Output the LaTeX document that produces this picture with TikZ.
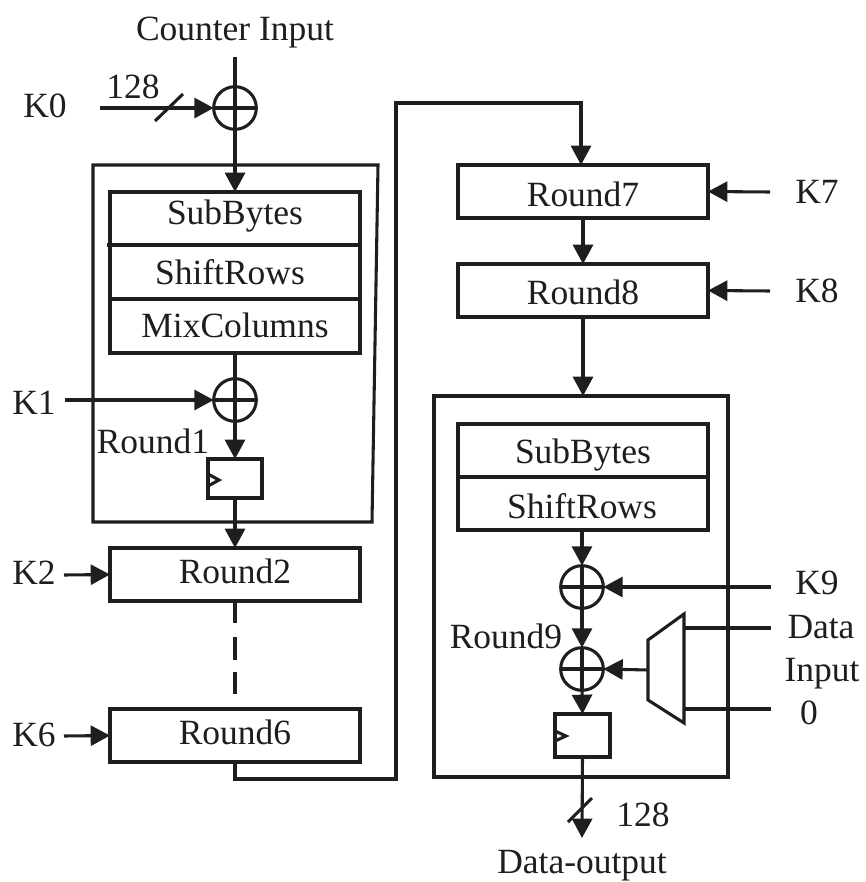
\documentclass[tikz,border=0pt]{standalone}
\usepackage{fontspec}
\setmainfont{Liberation Serif}
\usetikzlibrary{arrows.meta}
\definecolor{ink}{HTML}{1E1E1E}
\tikzset{
  x=0.75pt,y=-0.75pt,
  lab/.style={draw=none,inner sep=0pt,text=ink,font=\fontsize{26.6}{29}\selectfont},
  blk/.style n args={2}{draw=ink,line width=2.3pt,fill=white,rectangle,inner sep=0pt,outer sep=0pt,text=ink,
     minimum width=#1*0.75pt,minimum height=#2*0.75pt},
  xorc/.style={draw=ink,line width=2.3pt,circle,inner sep=0pt,outer sep=0pt,minimum size=32pt},
  conn/.style={-{Triangle[length=14.5pt,width=15pt]},line width=2.3pt,draw=ink},
  wire/.style={line width=2.3pt,draw=ink},
  bus/.style={line width=2.3pt,draw=ink},
}
\begin{document}
\begin{tikzpicture}
\useasboundingbox (0,0) rectangle (865,882);
% outer round boxes
\coordinate (ra) at (93,165); \coordinate (rb) at (378,165);
\coordinate (rc) at (372,522); \coordinate (rd) at (93,522);
\draw[wire,line join=miter] (ra) -- (rb) -- (rc) -- (rd) -- cycle;
\node[blk={294}{381}] (r9box) at (581,586.5) {};
% left column blocks
\node[blk={250}{53}] (sb1) at (235,218.5) {};
\node[blk={250}{54}] (sr1) at (235,272) {};
\node[blk={250}{54}] (mc1) at (235,326) {};
\node[lab] at (235,216) {SubBytes};
\node[lab] at (230,272) {ShiftRows};
\node[lab] at (235,325) {MixColumns};
\coordinate (tick) at (107,245);
\draw[wire] (tick) -- (sb1.south west);
\node[xorc] (x0) at (235,108) {};
\node[xorc] (x1) at (235,400) {};
\node[blk={54}{39}] (reg1) at (235,478.5) {};
\node[blk={250}{53}] (r2) at (235,574.5) {};
\node[blk={250}{53}] (r6) at (235,735.5) {};
\node[lab] at (235,571) {Round2};
\node[lab] at (235,732) {Round6};
% right column blocks
\node[blk={250}{53}] (r7) at (583,191.5) {};
\node[blk={250}{53}] (r8) at (583,290.5) {};
\node[lab] at (583,194) {Round7};
\node[lab] at (583,292) {Round8};
\node[blk={250}{53}] (sb9) at (583,450.5) {};
\node[blk={250}{53}] (sr9) at (583,503.5) {};
\node[lab] at (583,455) {SubBytes};
\node[lab] at (582,506) {ShiftRows};
\node[xorc] (x9) at (582,587) {};
\node[xorc] (xd) at (582,669) {};
\node[blk={55}{43}] (reg9) at (582.5,735.5) {};
% xor crosses
\foreach \n in {x0,x1,x9,xd}{\draw[bus] (\n.north) -- (\n.south) (\n.west) -- (\n.east);}
% clock marks
\draw[bus,line join=miter] (208,474) -- (219,480) -- (208,486);
\draw[bus,line join=miter] (555,731) -- (566,736) -- (555,741);
% mux
\coordinate (ma) at (648,640); \coordinate (mb) at (684,614);
\coordinate (mc) at (684,723); \coordinate (md) at (648,700);
\draw[wire,line join=miter] (ma) -- (mb) -- (mc) -- (md) -- cycle;
\coordinate (mout) at (648,670);
\coordinate (min1) at (684,628); \coordinate (min2) at (684,709);
% free ends
\coordinate (ctop) at (235,57);
\coordinate (k0s) at (100,108);
\coordinate (k1s) at (65,400);
\coordinate (k2s) at (64,575);
\coordinate (k6s) at (64,736);
\coordinate (k7s) at (770,192);
\coordinate (k8s) at (770,291);
\coordinate (k9s) at (771,587);
\coordinate (ds) at (771,628);
\coordinate (zs) at (771,709);
\coordinate (oute) at (582,838);
% connectors
\draw[wire] (ctop) -- (x0.north);
\draw[conn] (k0s) -- (x0.west);
\draw[conn] (x0.south) -- (sb1.north);
\draw[conn] (k1s) -- (x1.west);
\draw[wire] (mc1.south) -- (x1.north);
\draw[conn] (x1.south) -- (reg1.north);
\draw[conn] (reg1.south) -- (r2.north);
\draw[conn] (k2s) -- (r2.west);
\draw[wire,dash pattern=on 16.5pt off 10.5pt on 17pt off 9pt on 17pt off 200pt] (r2.south) -- (r6.north);
\draw[conn] (k6s) -- (r6.west);
\coordinate (c1) at (235,779); \coordinate (c2) at (396,779);
\coordinate (c3) at (396,103); \coordinate (c4) at (581,103);
\draw[conn,line join=miter] (r6.south) -- (c1) -- (c2) -- (c3) -- (c4) -- (r7.north -| c4);
\draw[conn] (k7s) -- (r7.east);
\draw[conn] (r7.south) -- (r8.north);
\draw[conn] (k8s) -- (r8.east);
\draw[conn] (r8.south) -- (r9box.north -| r8.south);
\draw[conn] (sr9.south -| x9.north) -- (x9.north);
\draw[conn] (k9s) -- (x9.east);
\draw[conn] (x9.south) -- (xd.north);
\draw[conn] (mout) -- (xd.east);
\draw[conn] (xd.south) -- (reg9.north);
\draw[wire] (ds) -- (min1);
\draw[wire] (zs) -- (min2);
\draw[conn] (reg9.south) -- (oute);
% bus slashes
\coordinate (s1) at (155,121); \coordinate (s2) at (183,94);
\coordinate (s3) at (568,822); \coordinate (s4) at (592,798);
\draw[bus] (s1) -- (s2);
\draw[bus] (s3) -- (s4);
% labels
\node[lab] at (235,33) {Counter Input};
\node[lab] at (45,106) {K0};
\node[lab] at (133,87) {128};
\node[lab] at (34,403) {K1};
\node[lab] at (153,441) {Round1};
\node[lab] at (34,573) {K2};
\node[lab] at (34,735) {K6};
\node[lab] at (817,192) {K7};
\node[lab] at (817,291) {K8};
\node[lab] at (817,583) {K9};
\node[lab] at (821,627) {Data};
\node[lab] at (822,674) {Input};
\node[lab] at (809,713) {0};
\node[lab] at (506,636) {Round9};
\node[lab] at (643,815) {128};
\node[lab] at (582,866) {Data-output};
\end{tikzpicture}
\end{document}
